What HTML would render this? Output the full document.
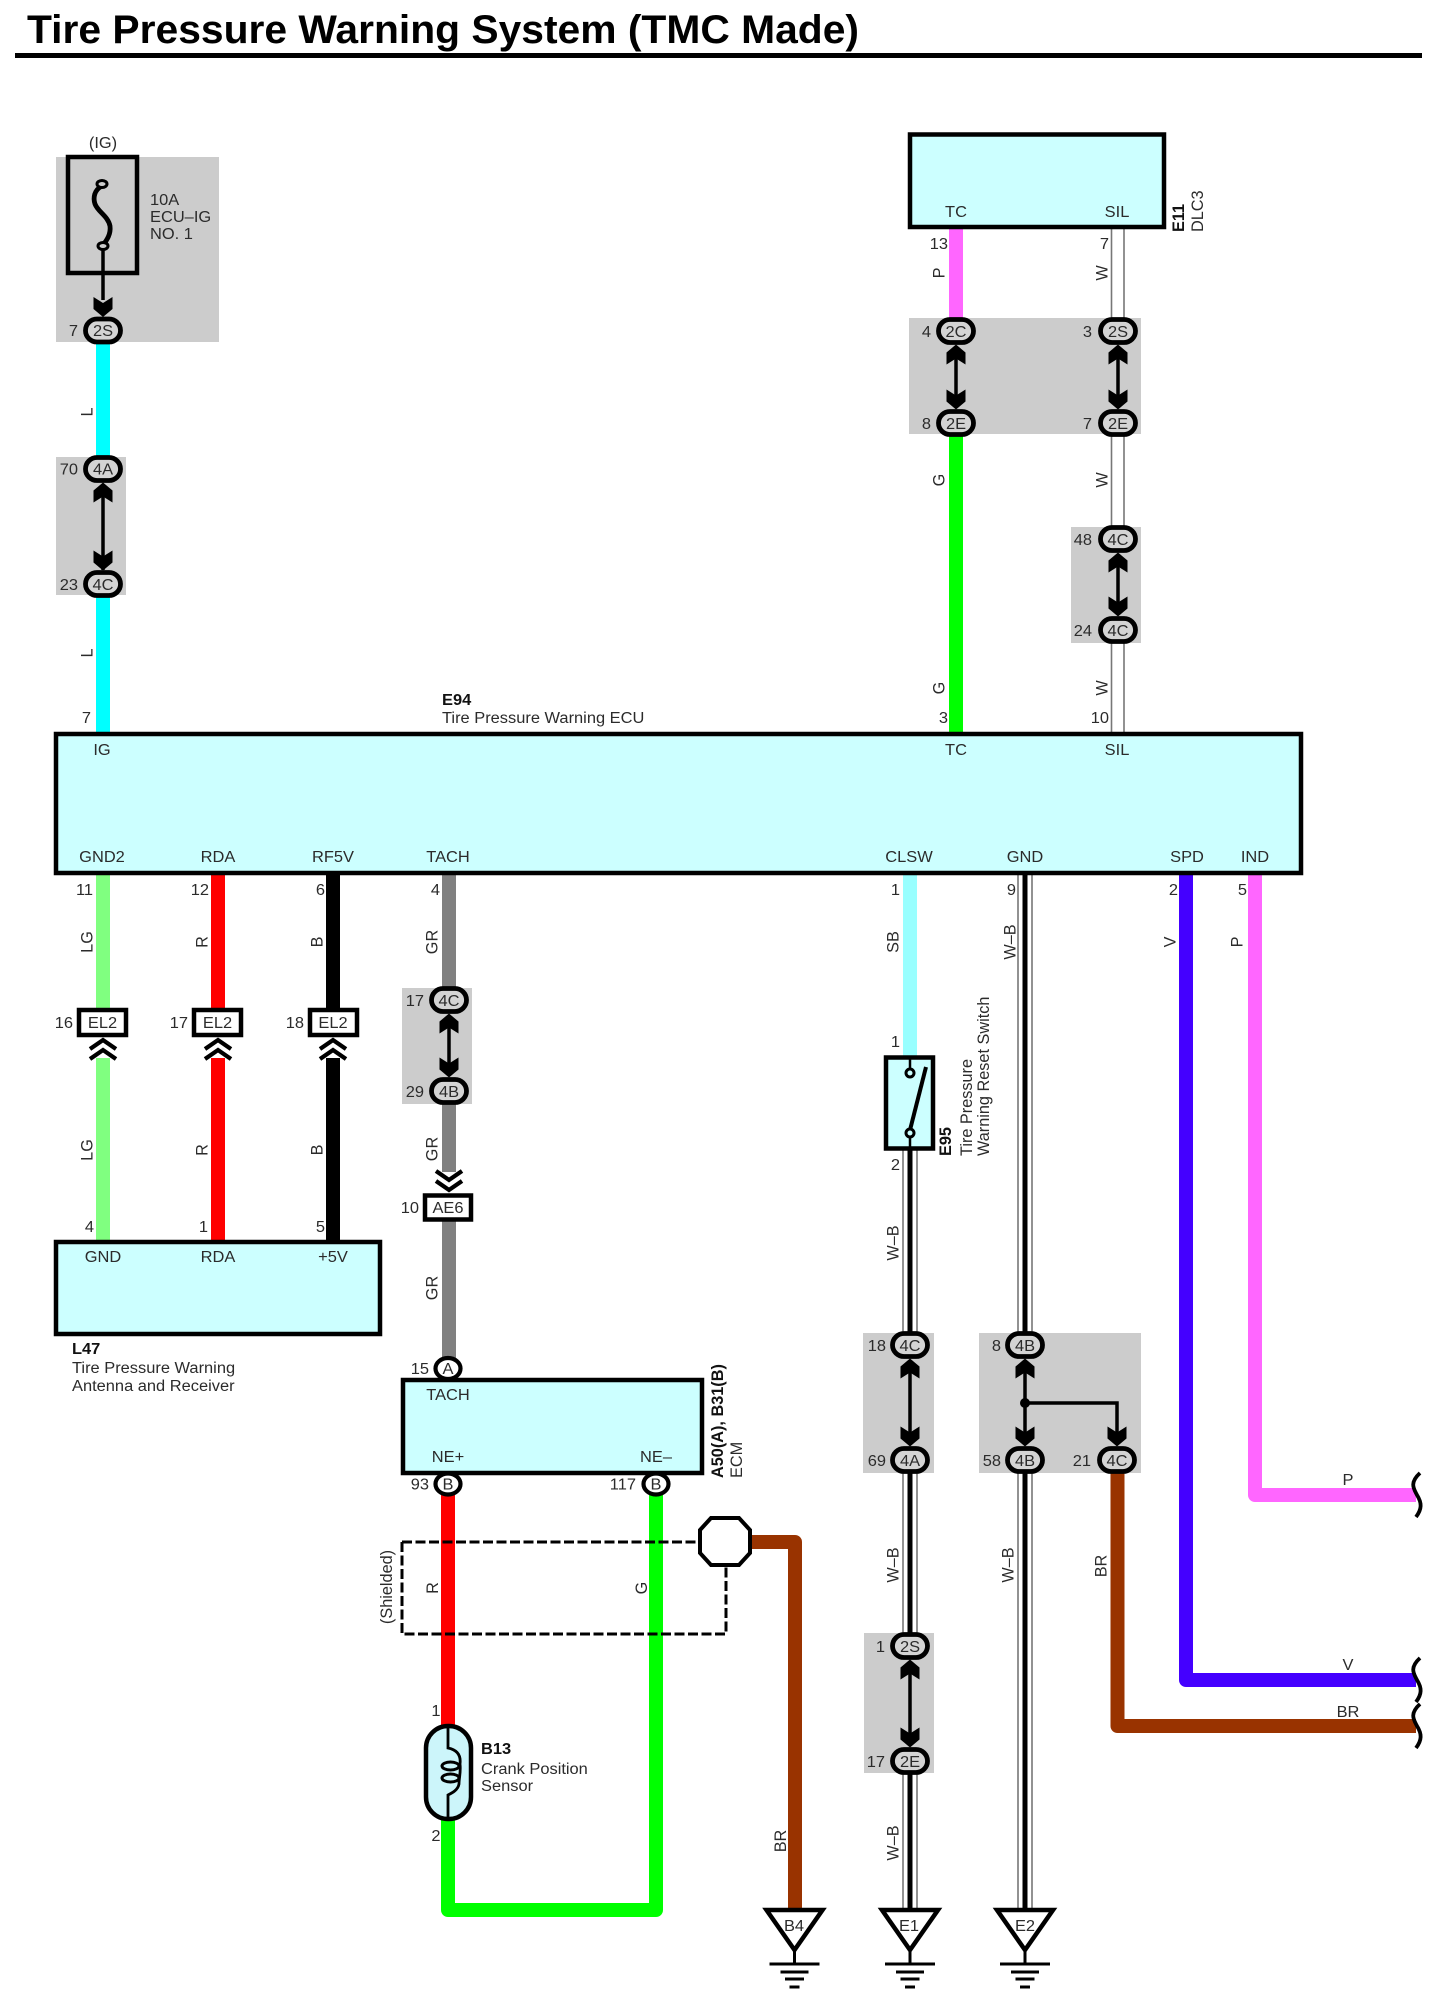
<!DOCTYPE html>
<html><head><meta charset="utf-8"><title>Tire Pressure Warning System</title>
<style>
html,body{margin:0;padding:0;background:#fff}
svg{display:block}
text{font-family:"Liberation Sans",sans-serif;font-size:15.5px;fill:#2b2b2b}
.n{text-anchor:middle}.e{text-anchor:end}
.b{font-weight:bold;fill:#111}
.w{fill:none;stroke-width:14;stroke-linejoin:round}
.g{fill:#cccccc}
.c{fill:#ccffff;stroke:#000;stroke-width:4.5}
.o{fill:#d4d4d4;stroke:#000;stroke-width:4.8}
.k{fill:none;stroke:#000;stroke-width:3.5}
.h{fill:none;stroke:#777;stroke-width:1.6}
</style></head><body>
<svg width="1430" height="1996" viewBox="0 0 1430 1996" xmlns="http://www.w3.org/2000/svg">
<defs>
<polygon id="au" points="0,0 9.5,8 9.5,20 0,14 -9.5,20 -9.5,8" fill="#000"/>
<polygon id="ad" points="0,0 9.5,-8 9.5,-20 0,-14 -9.5,-20 -9.5,-8" fill="#000"/>
<rect id="ov" x="-17.5" y="-11.5" width="35" height="23" rx="11.5" class="o"/>
<path id="cu" d="M-13 12L0 3L13 12M-13 22L0 13L13 22" fill="none" stroke="#000" stroke-width="4.2"/>
<path id="cd" d="M-13 0L0 9L13 0M-13 10L0 19L13 10" fill="none" stroke="#000" stroke-width="4.2"/>
<g id="gr">
<line x1="0" y1="40" x2="0" y2="56" stroke="#000" stroke-width="3"/>
<polygon points="-28,2 28,2 0,42" fill="#fff" stroke="#000" stroke-width="4.5"/>
<path d="M-25 56H25M-14 64H14M-9.500 71H9.500M-5 79H5" stroke="#000" stroke-width="3" fill="none"/>
</g>
<path id="wv" d="M6 -22C-5 -12 0 -6 3 0C8 8 8 14 2 22" fill="none" stroke="#000" stroke-width="3.800"/>
</defs>

<rect width="1430" height="1996" fill="#fff"/>

<!-- title -->
<text x="27" y="43" textLength="832" lengthAdjust="spacingAndGlyphs" style="font-size:40px;font-weight:bold;fill:#000">Tire Pressure Warning System (TMC Made)</text>
<rect x="15" y="53" width="1407" height="5" fill="#000"/>

<!-- grey boxes -->
<rect class="g" x="56" y="157" width="163" height="185"/>
<rect class="g" x="56" y="457" width="70" height="138"/>
<rect class="g" x="909" y="318" width="232" height="116"/>
<rect class="g" x="1071" y="527" width="70" height="116"/>
<rect class="g" x="402" y="988" width="70" height="116"/>
<rect class="g" x="863" y="1333" width="71" height="140"/>
<rect class="g" x="979" y="1333" width="162" height="140"/>
<rect class="g" x="864" y="1633" width="70" height="140"/>

<!-- coloured wires -->
<path class="w" stroke="#00ffff" d="M103 342V460M103 590V735"/>
<path class="w" stroke="#ff66ff" d="M956 229V325"/>
<path class="w" stroke="#00ff00" d="M956 430V735"/>
<path class="w" stroke="#80ff80" d="M103 875V1010M103 1058V1240"/>
<path class="w" stroke="#ff0000" d="M218 875V1010M218 1058V1240"/>
<path class="w" stroke="#000000" d="M333 875V1010M333 1058V1240"/>
<path class="w" stroke="#808080" d="M449 875V990M449 1100V1172M449 1221V1360"/>
<path class="w" stroke="#99ffff" d="M910 875V1056"/>
<path class="w" stroke="#4400ff" d="M1186 875V1680H1416"/>
<path class="w" stroke="#ff66ff" d="M1255 875V1495H1416"/>
<path class="w" stroke="#993300" d="M1117.500 1470V1726H1416"/>
<path class="w" stroke="#ff0000" d="M448 1490V1726"/>
<path class="w" stroke="#00ff00" d="M448 1818V1910H656V1490"/>
<path class="w" stroke="#993300" d="M748 1542H795V1910"/>

<!-- W and W-B wires -->
<path class="h" d="M1111.500 229V322M1124 229V322M1111.500 430V532M1124 430V532M1111.500 636V735M1124 636V735"/>
<path class="h" d="M903 1150V1340M917 1150V1340M903 1465V1640M917 1465V1640M903 1766V1910M917 1766V1910"/>
<path class="h" d="M1018 875V1340M1032 875V1340M1018 1465V1910M1032 1465V1910"/>
<path d="M910 1150V1340M910 1465V1640M910 1766V1910M1025 875V1340M1025 1465V1910" stroke="#000" stroke-width="5" fill="none"/>

<!-- shield -->
<path d="M402 1542H702M402 1542V1634H726V1566" fill="none" stroke="#000" stroke-width="3" stroke-dasharray="10 3.500"/>
<polygon points="711,1518 739,1518 750,1530 750,1553 739,1565 711,1565 700,1553 700,1530" fill="#fff" stroke="#000" stroke-width="4"/>

<!-- wavy ends -->
<use href="#wv" x="1414" y="1495"/>
<use href="#wv" x="1414" y="1680"/>
<use href="#wv" x="1414" y="1726"/>

<!-- fuse -->
<rect x="68" y="157" width="69" height="116" fill="none" stroke="#000" stroke-width="4.500"/>
<path d="M102 186C94 190 93 198 95 204C98 212 108 216 110 226C111 234 107 240 103 245" fill="none" stroke="#000" stroke-width="4.800"/>
<ellipse cx="102" cy="184" rx="5" ry="3.500" fill="#ccc" stroke="#000" stroke-width="3"/>
<ellipse cx="103" cy="246" rx="5" ry="3.500" fill="#ccc" stroke="#000" stroke-width="3"/>
<path class="k" d="M103 250V300"/>
<use href="#ad" x="103" y="317"/>
<use href="#ov" x="103" y="330.500"/>
<text class="n" transform="matrix(1.06 0 0 1 103 148)">(IG)</text>
<text transform="matrix(1.06 0 0 1 150 205)">10A</text>
<text transform="matrix(1.06 0 0 1 150 222)">ECU–IG</text>
<text transform="matrix(1.06 0 0 1 150 239)">NO. 1</text>
<text class="n" transform="matrix(1.06 0 0 1 103 336)">2S</text>
<text class="e" transform="matrix(1.06 0 0 1 78 336)">7</text>

<!-- left L -->
<text class="n" transform="matrix(0 -1.05 1.05 0 92.500 412)">L</text>
<text class="n" transform="matrix(0 -1.05 1.05 0 92.500 653)">L</text>
<path class="k" d="M103 490V570"/>
<use href="#au" x="103" y="482.500"/><use href="#ad" x="103" y="570.500"/>
<use href="#ov" x="103" y="469"/><use href="#ov" x="103" y="584"/>
<text class="n" transform="matrix(1.06 0 0 1 103 474.500)">4A</text>
<text class="n" transform="matrix(1.06 0 0 1 103 590)">4C</text>
<text class="e" transform="matrix(1.06 0 0 1 78 474.500)">70</text>
<text class="e" transform="matrix(1.06 0 0 1 78 590)">23</text>
<text class="e" transform="matrix(1.06 0 0 1 91 723)">7</text>

<!-- E11 -->
<rect class="c" x="910" y="134.500" width="254" height="92.500"/>
<text class="n" transform="matrix(1.06 0 0 1 956 217)">TC</text>
<text class="n" transform="matrix(1.06 0 0 1 1117 217)">SIL</text>
<text class="b" transform="matrix(0 -1.05 1.05 0 1184 232)">E11</text>
<text transform="matrix(0 -1.05 1.05 0 1203 232)">DLC3</text>
<text class="e" transform="matrix(1.06 0 0 1 948 249)">13</text>
<text class="e" transform="matrix(1.06 0 0 1 1109 249)">7</text>
<text class="n" transform="matrix(0 -1.05 1.05 0 944.500 273)">P</text>
<text class="n" transform="matrix(0 -1.05 1.05 0 1107.500 273)">W</text>
<text class="n" transform="matrix(0 -1.05 1.05 0 944.500 480)">G</text>
<text class="n" transform="matrix(0 -1.05 1.05 0 1107.500 480)">W</text>
<text class="n" transform="matrix(0 -1.05 1.05 0 944.500 688)">G</text>
<text class="n" transform="matrix(0 -1.05 1.05 0 1107.500 688)">W</text>
<text class="e" transform="matrix(1.06 0 0 1 948 723)">3</text>
<text class="e" transform="matrix(1.06 0 0 1 1109 723)">10</text>

<path class="k" d="M956 350V405M1118 350V405M1118 558V612"/>
<use href="#au" x="956" y="344.500"/><use href="#ad" x="956" y="409.500"/>
<use href="#au" x="1118" y="344.500"/><use href="#ad" x="1118" y="409.500"/>
<use href="#au" x="1118" y="552.500"/><use href="#ad" x="1118" y="616.500"/>
<use href="#ov" x="956" y="331"/><use href="#ov" x="956" y="423"/>
<use href="#ov" x="1118" y="331"/><use href="#ov" x="1118" y="423"/>
<use href="#ov" x="1118" y="539"/><use href="#ov" x="1118" y="630"/>
<text class="n" transform="matrix(1.06 0 0 1 956 337)">2C</text>
<text class="n" transform="matrix(1.06 0 0 1 956 429)">2E</text>
<text class="n" transform="matrix(1.06 0 0 1 1118 337)">2S</text>
<text class="n" transform="matrix(1.06 0 0 1 1118 429)">2E</text>
<text class="n" transform="matrix(1.06 0 0 1 1118 545)">4C</text>
<text class="n" transform="matrix(1.06 0 0 1 1118 636)">4C</text>
<text class="e" transform="matrix(1.06 0 0 1 931 337)">4</text>
<text class="e" transform="matrix(1.06 0 0 1 931 429)">8</text>
<text class="e" transform="matrix(1.06 0 0 1 1092 337)">3</text>
<text class="e" transform="matrix(1.06 0 0 1 1092 429)">7</text>
<text class="e" transform="matrix(1.06 0 0 1 1092 545)">48</text>
<text class="e" transform="matrix(1.06 0 0 1 1092 636)">24</text>

<!-- E94 ECU -->
<text class="b" transform="matrix(1.06 0 0 1 442 705)">E94</text>
<text transform="matrix(1.06 0 0 1 442 723)">Tire Pressure Warning ECU</text>
<rect class="c" x="56" y="734" width="1245" height="139"/>
<text class="n" transform="matrix(1.06 0 0 1 102 755)">IG</text>
<text class="n" transform="matrix(1.06 0 0 1 956 755)">TC</text>
<text class="n" transform="matrix(1.06 0 0 1 1117 755)">SIL</text>
<text class="n" transform="matrix(1.06 0 0 1 102 862)">GND2</text>
<text class="n" transform="matrix(1.06 0 0 1 218 862)">RDA</text>
<text class="n" transform="matrix(1.06 0 0 1 333 862)">RF5V</text>
<text class="n" transform="matrix(1.06 0 0 1 448 862)">TACH</text>
<text class="n" transform="matrix(1.06 0 0 1 909 862)">CLSW</text>
<text class="n" transform="matrix(1.06 0 0 1 1025 862)">GND</text>
<text class="n" transform="matrix(1.06 0 0 1 1187 862)">SPD</text>
<text class="n" transform="matrix(1.06 0 0 1 1255 862)">IND</text>

<!-- pins under ECU -->
<text class="e" transform="matrix(1.06 0 0 1 93 895)">11</text>
<text class="e" transform="matrix(1.06 0 0 1 209 895)">12</text>
<text class="e" transform="matrix(1.06 0 0 1 325 895)">6</text>
<text class="e" transform="matrix(1.06 0 0 1 440 895)">4</text>
<text class="e" transform="matrix(1.06 0 0 1 900 895)">1</text>
<text class="e" transform="matrix(1.06 0 0 1 1016 895)">9</text>
<text class="e" transform="matrix(1.06 0 0 1 1178 895)">2</text>
<text class="e" transform="matrix(1.06 0 0 1 1247 895)">5</text>
<text class="n" transform="matrix(0 -1.05 1.05 0 92.500 942)">LG</text>
<text class="n" transform="matrix(0 -1.05 1.05 0 207.500 942)">R</text>
<text class="n" transform="matrix(0 -1.05 1.05 0 322.500 942)">B</text>
<text class="n" transform="matrix(0 -1.05 1.05 0 437.500 942)">GR</text>
<text class="n" transform="matrix(0 -1.05 1.05 0 898.500 942)">SB</text>
<text class="n" transform="matrix(0 -1.05 1.05 0 1015.500 942)">W–B</text>
<text class="n" transform="matrix(0 -1.05 1.05 0 1175.500 942)">V</text>
<text class="n" transform="matrix(0 -1.05 1.05 0 1242.500 942)">P</text>
<text class="n" transform="matrix(0 -1.05 1.05 0 92.500 1150)">LG</text>
<text class="n" transform="matrix(0 -1.05 1.05 0 207.500 1150)">R</text>
<text class="n" transform="matrix(0 -1.05 1.05 0 322.500 1150)">B</text>
<text class="n" transform="matrix(0 -1.05 1.05 0 437.500 1149)">GR</text>
<text class="n" transform="matrix(0 -1.05 1.05 0 437.500 1288)">GR</text>

<!-- EL2 connectors -->
<rect x="79" y="1010" width="47" height="25" fill="#fff" stroke="#000" stroke-width="4.5"/>
<rect x="194" y="1010" width="47" height="25" fill="#fff" stroke="#000" stroke-width="4.5"/>
<rect x="310" y="1010" width="47" height="25" fill="#fff" stroke="#000" stroke-width="4.5"/>
<text class="n" transform="matrix(1.06 0 0 1 102.500 1028)">EL2</text>
<text class="n" transform="matrix(1.06 0 0 1 217.500 1028)">EL2</text>
<text class="n" transform="matrix(1.06 0 0 1 333 1028)">EL2</text>
<use href="#cu" x="103" y="1037"/><use href="#cu" x="218" y="1037"/><use href="#cu" x="333" y="1037"/>
<text class="e" transform="matrix(1.06 0 0 1 73 1028)">16</text>
<text class="e" transform="matrix(1.06 0 0 1 188 1028)">17</text>
<text class="e" transform="matrix(1.06 0 0 1 304 1028)">18</text>

<!-- TACH connectors -->
<path class="k" d="M449 1020V1070"/>
<use href="#au" x="449" y="1013.500"/><use href="#ad" x="449" y="1077.500"/>
<use href="#ov" x="449" y="1000"/><use href="#ov" x="449" y="1091"/>
<text class="n" transform="matrix(1.06 0 0 1 449 1006)">4C</text>
<text class="n" transform="matrix(1.06 0 0 1 449 1097)">4B</text>
<text class="e" transform="matrix(1.06 0 0 1 424 1006)">17</text>
<text class="e" transform="matrix(1.06 0 0 1 424 1097)">29</text>
<use href="#cd" x="449" y="1171"/>
<rect x="425" y="1195.500" width="46" height="24" fill="#fff" stroke="#000" stroke-width="4.500"/>
<text class="n" transform="matrix(1.06 0 0 1 448 1213)">AE6</text>
<text class="e" transform="matrix(1.06 0 0 1 419 1213)">10</text>

<!-- L47 -->
<text class="e" transform="matrix(1.06 0 0 1 94 1232)">4</text>
<text class="e" transform="matrix(1.06 0 0 1 208 1232)">1</text>
<text class="e" transform="matrix(1.06 0 0 1 325 1232)">5</text>
<rect class="c" x="56" y="1242" width="324" height="92"/>
<text class="n" transform="matrix(1.06 0 0 1 103 1262)">GND</text>
<text class="n" transform="matrix(1.06 0 0 1 218 1262)">RDA</text>
<text class="n" transform="matrix(1.06 0 0 1 333 1262)">+5V</text>
<text class="b" transform="matrix(1.06 0 0 1 72 1354)">L47</text>
<text transform="matrix(1.06 0 0 1 72 1373)">Tire Pressure Warning</text>
<text transform="matrix(1.06 0 0 1 72 1391)">Antenna and Receiver</text>

<!-- ECM -->
<ellipse cx="448" cy="1368.500" rx="12.500" ry="10.500" fill="#fff" stroke="#000" stroke-width="4.200"/>
<text class="n" transform="matrix(1.06 0 0 1 448 1374)">A</text>
<text class="e" transform="matrix(1.06 0 0 1 429 1374)">15</text>
<rect class="c" x="403" y="1380" width="299" height="93"/>
<text class="n" transform="matrix(1.06 0 0 1 448 1400)">TACH</text>
<text class="n" transform="matrix(1.06 0 0 1 448 1462)">NE+</text>
<text class="n" transform="matrix(1.06 0 0 1 656 1462)">NE–</text>
<text class="b" transform="matrix(0 -1.05 1.05 0 723 1478)">A50(A), B31(B)</text>
<text transform="matrix(0 -1.05 1.05 0 742 1478)">ECM</text>
<ellipse cx="448" cy="1484" rx="12.500" ry="10.500" fill="#fff" stroke="#000" stroke-width="4.200"/>
<ellipse cx="656" cy="1484" rx="12.500" ry="10.500" fill="#fff" stroke="#000" stroke-width="4.200"/>
<text class="n" transform="matrix(1.06 0 0 1 448 1489.500)">B</text>
<text class="n" transform="matrix(1.06 0 0 1 656 1489.500)">B</text>
<text class="e" transform="matrix(1.06 0 0 1 429 1489.500)">93</text>
<text class="e" transform="matrix(1.06 0 0 1 636 1489.500)">117</text>
<text class="n" transform="matrix(0 -1.05 1.05 0 392 1587)">(Shielded)</text>
<text class="n" transform="matrix(0 -1.05 1.05 0 438 1588)">R</text>
<text class="n" transform="matrix(0 -1.05 1.05 0 647 1588)">G</text>

<!-- Sensor -->
<text class="n" transform="matrix(1.06 0 0 1 436 1716)">1</text>
<text class="n" transform="matrix(1.06 0 0 1 436 1841)">2</text>
<rect x="426" y="1726" width="45" height="93" rx="22" fill="#ccf5fa" stroke="#000" stroke-width="4.500"/>
<path d="M448 1726V1748C458 1750 461 1756 460 1764C461 1772 459 1778 459 1784C458 1790 452 1793 448 1795V1819" fill="none" stroke="#000" stroke-width="2.800"/>
<ellipse cx="450.500" cy="1766" rx="8.500" ry="4" fill="none" stroke="#000" stroke-width="3"/>
<ellipse cx="450.500" cy="1778" rx="8.500" ry="4" fill="none" stroke="#000" stroke-width="3"/>
<text class="b" transform="matrix(1.06 0 0 1 481 1754)">B13</text>
<text transform="matrix(1.06 0 0 1 481 1774)">Crank Position</text>
<text transform="matrix(1.06 0 0 1 481 1791)">Sensor</text>
<text class="n" transform="matrix(0 -1.05 1.05 0 786 1841)">BR</text>

<!-- E95 -->
<text class="e" transform="matrix(1.06 0 0 1 900 1047)">1</text>
<rect class="c" x="886" y="1057.500" width="47" height="91"/>
<path d="M910 1057V1070" stroke="#000" stroke-width="2.500"/>
<path d="M910 1130L926 1067" stroke="#000" stroke-width="4"/>
<circle cx="910" cy="1073" r="4" fill="#ccffff" stroke="#000" stroke-width="3"/>
<circle cx="910" cy="1133" r="4" fill="#ccffff" stroke="#000" stroke-width="3"/>
<path d="M910 1137V1150" stroke="#000" stroke-width="2.500"/>
<text class="e" transform="matrix(1.06 0 0 1 900 1170)">2</text>
<text class="b" transform="matrix(0 -1.05 1.05 0 951 1156)">E95</text>
<text transform="matrix(0 -1.05 1.05 0 972 1156)">Tire Pressure</text>
<text transform="matrix(0 -1.05 1.05 0 989 1156)">Warning Reset Switch</text>
<text class="n" transform="matrix(0 -1.05 1.05 0 898.500 1243)">W–B</text>
<text class="n" transform="matrix(0 -1.05 1.05 0 898.500 1565)">W–B</text>
<text class="n" transform="matrix(0 -1.05 1.05 0 898.500 1843)">W–B</text>
<text class="n" transform="matrix(0 -1.05 1.05 0 1013.500 1565)">W–B</text>
<text class="n" transform="matrix(0 -1.05 1.05 0 1106.500 1566)">BR</text>

<!-- Junctions lower right -->
<path class="k" d="M910 1365V1440M1025 1365V1440M1025 1403H1117V1440"/>
<circle cx="1025" cy="1403" r="5" fill="#000"/>
<use href="#au" x="910" y="1358.500"/><use href="#ad" x="910" y="1446.500"/>
<use href="#au" x="1025" y="1358.500"/><use href="#ad" x="1025" y="1446.500"/><use href="#ad" x="1117" y="1446.500"/>
<use href="#ov" x="910" y="1345"/><use href="#ov" x="910" y="1460"/>
<use href="#ov" x="1025" y="1345"/><use href="#ov" x="1025" y="1460"/><use href="#ov" x="1117" y="1460"/>
<text class="n" transform="matrix(1.06 0 0 1 910 1351)">4C</text>
<text class="n" transform="matrix(1.06 0 0 1 910 1466)">4A</text>
<text class="n" transform="matrix(1.06 0 0 1 1025 1351)">4B</text>
<text class="n" transform="matrix(1.06 0 0 1 1025 1466)">4B</text>
<text class="n" transform="matrix(1.06 0 0 1 1117 1466)">4C</text>
<text class="e" transform="matrix(1.06 0 0 1 886 1351)">18</text>
<text class="e" transform="matrix(1.06 0 0 1 886 1466)">69</text>
<text class="e" transform="matrix(1.06 0 0 1 1001 1351)">8</text>
<text class="e" transform="matrix(1.06 0 0 1 1001 1466)">58</text>
<text class="e" transform="matrix(1.06 0 0 1 1091 1466)">21</text>

<!-- 2S 2E -->
<path class="k" d="M910 1665V1745"/>
<use href="#au" x="910" y="1659.500"/><use href="#ad" x="910" y="1747.500"/>
<use href="#ov" x="910" y="1646"/><use href="#ov" x="910" y="1761"/>
<text class="n" transform="matrix(1.06 0 0 1 910 1652)">2S</text>
<text class="n" transform="matrix(1.06 0 0 1 910 1767)">2E</text>
<text class="e" transform="matrix(1.06 0 0 1 885 1652)">1</text>
<text class="e" transform="matrix(1.06 0 0 1 885 1767)">17</text>

<!-- right labels -->
<text class="n" transform="matrix(1.06 0 0 1 1348 1485)">P</text>
<text class="n" transform="matrix(1.06 0 0 1 1348 1670)">V</text>
<text class="n" transform="matrix(1.06 0 0 1 1348 1717)">BR</text>

<!-- grounds -->
<use href="#gr" x="794.500" y="1908"/>
<use href="#gr" x="910" y="1908"/>
<use href="#gr" x="1025" y="1908"/>
<text class="n" transform="matrix(1.06 0 0 1 794 1931)">B4</text>
<text class="n" transform="matrix(1.06 0 0 1 909 1931)">E1</text>
<text class="n" transform="matrix(1.06 0 0 1 1025 1931)">E2</text>
</svg>
</body></html>
